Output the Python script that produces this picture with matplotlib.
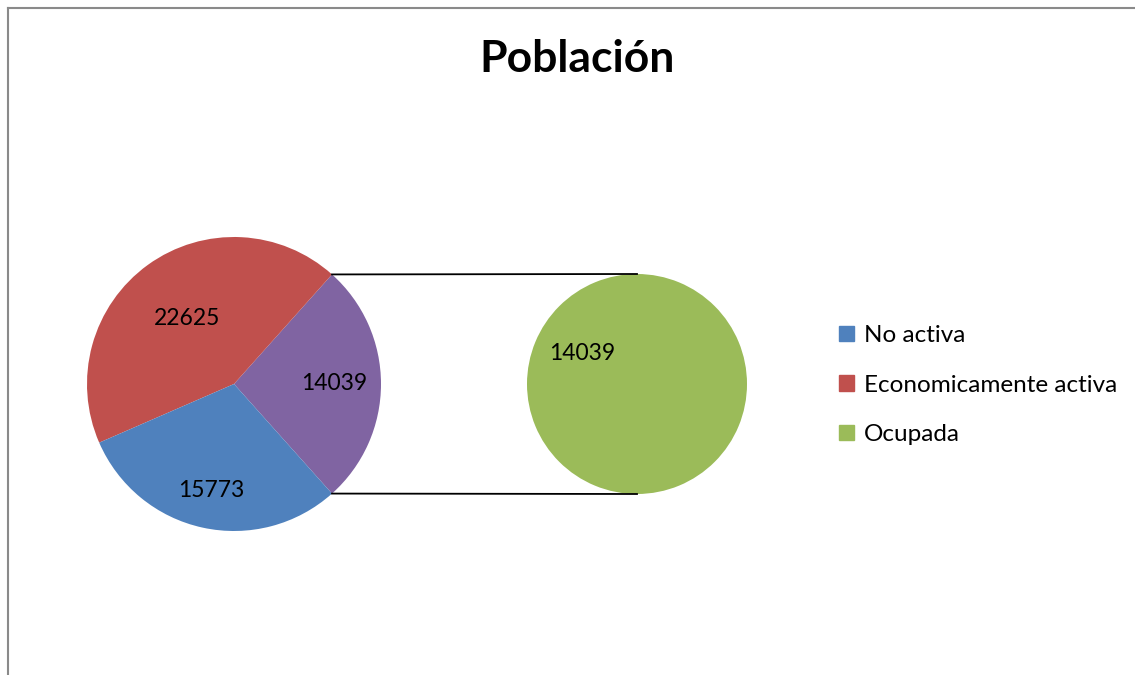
import numpy as np
import matplotlib.pyplot as plt
from matplotlib.patches import Patch
from matplotlib.lines import Line2D

plt.rcParams['font.family'] = ['Lato', 'DejaVu Sans']

# datos
categorias = ["No activa", "Economicamente activa", "Ocupada"]
valores = [15773, 22625, 14039]
colores = ["#4F81BD", "#C0504D", "#9BBB59"]
color_otro = "#8064A2"
titulo = "Población"

# pastel principal: el resto (Ocupada) va agrupado a la derecha
principal = [valores[2], valores[1], valores[0]]
col_principal = [color_otro, colores[1], colores[0]]
total = sum(principal)
ang_otro = principal[0] / total * 360

fig = plt.figure(figsize=(11.35, 6.75), dpi=100)
ax = fig.add_axes([0, 0, 1, 1])

H = 675
c1 = (234, H - 384)
r1 = 147
c2 = (637, H - 384)
r2 = 110

wedges, _ = ax.pie(principal, colors=col_principal, startangle=-ang_otro / 2,
                   center=c1, radius=r1, wedgeprops=dict(linewidth=0))
dist = [0.68, 0.55, 0.74]
for w, v, d in zip(wedges, principal, dist):
    m = np.deg2rad((w.theta1 + w.theta2) / 2)
    ax.text(c1[0] + d * r1 * np.cos(m), c1[1] + d * r1 * np.sin(m), str(v),
            ha="center", va="center", fontsize=16.5)

w2, _ = ax.pie([valores[2]], colors=[colores[2]], startangle=-29.4,
               center=c2, radius=r2, wedgeprops=dict(linewidth=0))
m = np.deg2rad((w2[0].theta1 + w2[0].theta2) / 2)
ax.text(c2[0] + 0.57 * r2 * np.cos(m), c2[1] + 0.57 * r2 * np.sin(m), str(valores[2]),
        ha="center", va="center", fontsize=16.5)

# lineas de conexion
a = np.deg2rad(ang_otro / 2)
for s in (1, -1):
    ax.plot([c1[0] + r1 * np.cos(a), c2[0]], [c1[1] + s * r1 * np.sin(a), c2[1] + s * r2],
            color="black", lw=1.3)

ax.set_xlim(0, 1135)
ax.set_ylim(0, H)
ax.set_aspect("equal")
ax.axis("off")

ax.text(577, H - 59, titulo, ha="center", va="center", fontsize=32, fontweight="bold")

handles = [Patch(color=c) for c in colores]
fig.legend(handles, categorias, loc="center left", bbox_to_anchor=(817 / 1135, 1 - 385 / H),
           frameon=False, fontsize=17.5, handlelength=0.62, handleheight=0.62,
           handletextpad=0.4, labelspacing=1.17)

# borde del area del grafico
fig.add_artist(Line2D([8 / 1135, 8 / 1135], [0, 1 - 8 / H], color="#8a8a8a", lw=1.5))
fig.add_artist(Line2D([8 / 1135, 1], [1 - 8 / H, 1 - 8 / H], color="#8a8a8a", lw=1.5))

fig.savefig("out.png", dpi=100, facecolor="white")
